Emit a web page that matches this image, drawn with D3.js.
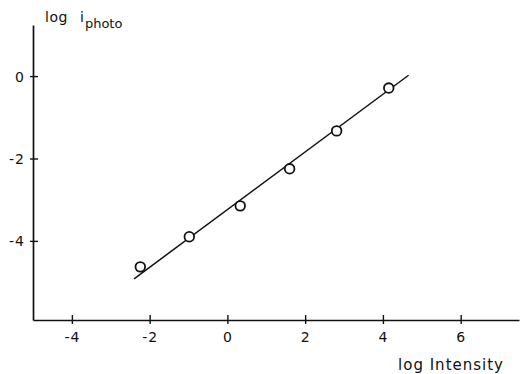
<!DOCTYPE html>
<html>
<head>
<meta charset="utf-8">
<script src="https://cdn.jsdelivr.net/npm/d3@7"></script>
<style>
  body { margin: 0; background: #fff; }
  text { font-family: "DejaVu Sans", sans-serif; fill: #111; }
</style>
</head>
<body>
<svg id="chart" width="521" height="374"></svg>
<script>
// measured points: log intensity vs log photocurrent
const logIntensity = [-2.24, -0.98, 0.33, 1.60, 2.81, 4.15];
const logPhoto = [-4.63, -3.90, -3.15, -2.25, -1.33, -0.29];
// fitted straight line, end points
const fitX = [-2.40, 4.66];
const fitY = [-4.92, 0.02];
const xTicks = [-4, -2, 0, 2, 4, 6];
const yTicks = [0, -2, -4];

const svg = d3.select('#chart');

const x = d3.scaleLinear().domain([-5, 7.5]).range([33, 519]);
const y = d3.scaleLinear().domain([-5.92, 1.24]).range([320, 25]);

const fmt = d => d < 0 ? '-' + Math.abs(d) : d;

// axes: ticks cross the axis line
const xAxis = svg.append('g')
  .attr('transform', `translate(0,${y(-5.92)})`)
  .call(d3.axisBottom(x).tickValues(xTicks).tickSize(0).tickFormat(''));
xAxis.select('.domain').attr('stroke', '#111').attr('stroke-width', 1.7);
xAxis.selectAll('.tick').append('line')
  .attr('y1', -5).attr('y2', 4)
  .attr('stroke', '#111').attr('stroke-width', 1.4);
xAxis.selectAll('.tick').append('text')
  .attr('y', 22)
  .attr('text-anchor', 'middle')
  .style('font-size', '14px')
  .style('letter-spacing', '1px')
  .text(fmt);

const yAxis = svg.append('g')
  .attr('transform', `translate(${x(-5)},0)`)
  .call(d3.axisLeft(y).tickValues(yTicks).tickSize(0).tickFormat(''));
yAxis.select('.domain').attr('stroke', '#111').attr('stroke-width', 1.7);
yAxis.selectAll('.tick').append('line')
  .attr('x1', -3).attr('x2', 5)
  .attr('stroke', '#111').attr('stroke-width', 1.4);
yAxis.selectAll('.tick').append('text')
  .attr('x', -8)
  .attr('dy', '0.36em')
  .attr('text-anchor', 'end')
  .style('font-size', '14px')
  .style('letter-spacing', '1px')
  .text(fmt);

// fit line
svg.append('line')
  .attr('x1', x(fitX[0])).attr('y1', y(fitY[0]))
  .attr('x2', x(fitX[1])).attr('y2', y(fitY[1]))
  .attr('stroke', '#111')
  .attr('stroke-width', 1.5);

// open circles
svg.append('g')
  .selectAll('circle')
  .data(logIntensity.map((v, i) => [v, logPhoto[i]]))
  .enter()
  .append('circle')
  .attr('cx', d => x(d[0]))
  .attr('cy', d => y(d[1]))
  .attr('r', 4.8)
  .attr('fill', '#fff')
  .attr('stroke', '#111')
  .attr('stroke-width', 1.8);

// axis titles
svg.append('text')
  .attr('x', 45).attr('y', 22)
  .style('font-size', '14px')
  .style('letter-spacing', '0.5px')
  .text('log');
const sub = svg.append('text')
  .attr('x', 80).attr('y', 22)
  .style('font-size', '14px');
sub.append('tspan').text('i');
sub.append('tspan').attr('dy', 6).attr('dx', 1).style('font-size', '13px').text('photo');

svg.append('text')
  .attr('x', 504)
  .attr('y', 370)
  .attr('text-anchor', 'end')
  .style('font-size', '15px')
  .style('letter-spacing', '1px')
  .text('log Intensity');
</script>
</body>
</html>
